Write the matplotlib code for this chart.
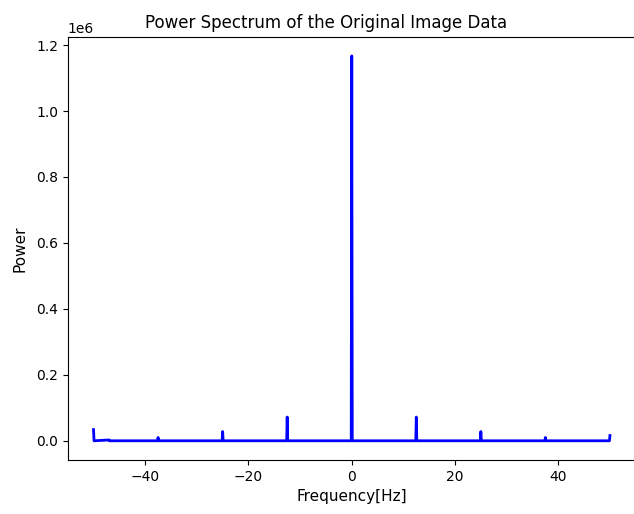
from matplotlib import pyplot as plt

# frequency axis (Hz) and power
freq = [-50.0, -49.9, -47.0, -46.9, -37.6, -37.5, -37.4, -25.1, -25.0, -24.9,
        -12.6, -12.5, -12.4, -0.1, 0.0, 0.1, 12.4, 12.5, 12.6,
        24.9, 25.0, 25.1, 37.4, 37.5, 37.6, 49.9, 50.0]
power = [34000, 0, 2500, 0, 0, 10000, 0, 0, 28000, 0,
         0, 72000, 0, 0, 1167000, 0, 0, 72000, 0,
         0, 28000, 0, 0, 10000, 0, 0, 16000]

fig = plt.figure(figsize=(6.34, 5.14), dpi=100)
ax = fig.add_axes([0.1068, 0.105, 0.896, 0.8236])
ax.plot(freq, power, color="blue", linewidth=2)

ax.set_title("Power Spectrum of the Original Image Data", x=0.454)
ax.set_xlabel("Frequency[Hz]", fontsize=11)
ax.set_ylabel("Power", fontsize=11, labelpad=6)

fig.savefig("out.png")
